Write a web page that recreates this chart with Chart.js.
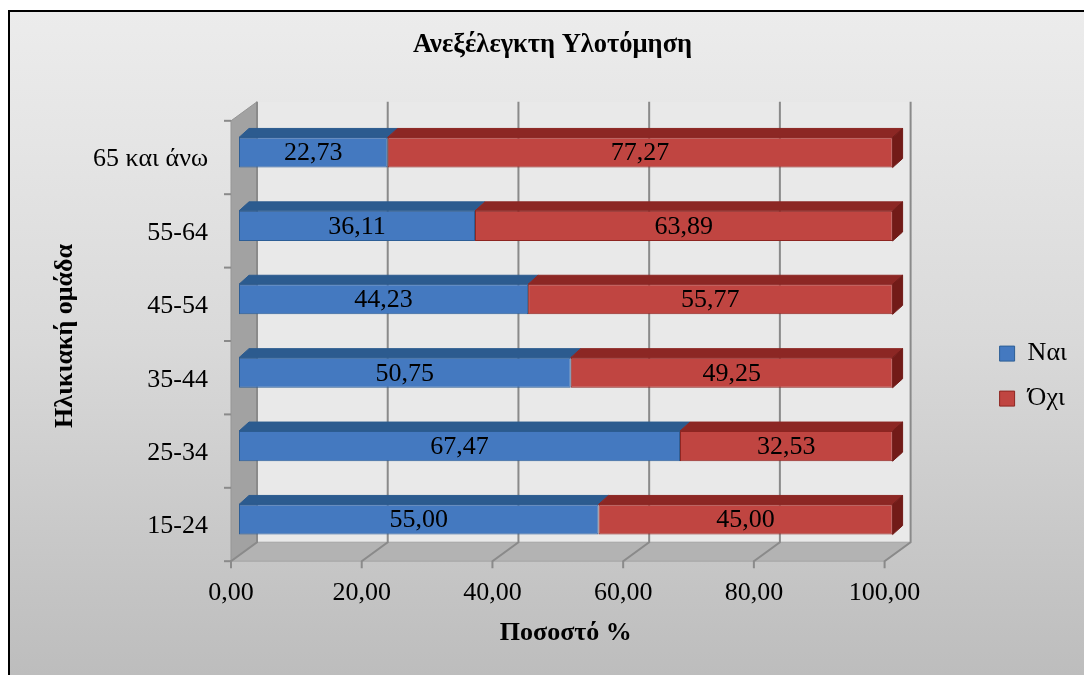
<!DOCTYPE html>
<html>
<head>
<meta charset="utf-8">
<script src="https://cdn.jsdelivr.net/npm/chart.js@4.4.1/dist/chart.umd.min.js"></script>
<style>
  html, body { margin: 0; padding: 0; background: #fff; }
  canvas { display: block; }
</style>
</head>
<body>
<canvas id="chart" width="1084" height="675"></canvas>
<script>
// data
const categories = ['15-24', '25-34', '35-44', '45-54', '55-64', '65 και άνω'];
const yesValues = [55.00, 67.47, 50.75, 44.23, 36.11, 22.73];
const noValues = [45.00, 32.53, 49.25, 55.77, 63.89, 77.27];
const seriesNames = ['Ναι', 'Όχι'];

const FONT = "'Liberation Serif', 'Times New Roman', serif";
Chart.defaults.font.family = FONT;
Chart.defaults.color = '#000';

// 3D offsets relative to the bar plane (chart area)
const FRONT = { dx: -8, dy: 5 };
const BACK = { dx: 18, dy: -14 };
const BAR_DEPTH = { dx: 10, dy: -9 };

const fmt = (v) => v.toFixed(2).replace('.', ',');

function poly(ctx, pts, fill, stroke) {
    ctx.beginPath();
    ctx.moveTo(pts[0][0], pts[0][1]);
    for (let i = 1; i < pts.length; i++) ctx.lineTo(pts[i][0], pts[i][1]);
    ctx.closePath();
    if (fill) { ctx.fillStyle = fill; ctx.fill(); }
    if (stroke) { ctx.strokeStyle = stroke; ctx.lineWidth = 1; ctx.stroke(); }
}

// page background with the frame
const backgroundPlugin = {
    id: 'background',
    beforeDraw(chart) {
        const { ctx, width, height } = chart;
        ctx.save();
        ctx.fillStyle = '#fff';
        ctx.fillRect(0, 0, width, height);
        const g = ctx.createLinearGradient(0, 10, 0, height);
        g.addColorStop(0, '#ececec');
        g.addColorStop(0.2, '#e5e5e5');
        g.addColorStop(0.5, '#d9d9d9');
        g.addColorStop(0.85, '#c5c5c5');
        g.addColorStop(1, '#bdbdbd');
        ctx.fillStyle = g;
        ctx.fillRect(8, 10, width - 8, height - 10);
        ctx.strokeStyle = '#000';
        ctx.lineWidth = 2;
        ctx.beginPath();
        ctx.moveTo(9, height);
        ctx.lineTo(9, 11);
        ctx.lineTo(width, 11);
        ctx.stroke();
        ctx.restore();
    }
};

// walls, floor and gridlines
const wallsPlugin = {
    id: 'walls',
    beforeDatasetsDraw(chart) {
        const { ctx, chartArea: a, scales: { x, y } } = chart;
        ctx.save();
        // back wall
        ctx.fillStyle = '#e9e9e9';
        ctx.fillRect(a.left + BACK.dx, a.top + BACK.dy, a.width, a.height);
        // side wall
        poly(ctx, [
            [a.left + FRONT.dx, a.top + FRONT.dy],
            [a.left + BACK.dx, a.top + BACK.dy],
            [a.left + BACK.dx, a.bottom + BACK.dy],
            [a.left + FRONT.dx, a.bottom + FRONT.dy]
        ], '#a2a2a2', '#959595');
        // floor
        poly(ctx, [
            [a.left + FRONT.dx, a.bottom + FRONT.dy],
            [a.left + BACK.dx, a.bottom + BACK.dy],
            [a.right + BACK.dx, a.bottom + BACK.dy],
            [a.right + FRONT.dx, a.bottom + FRONT.dy]
        ], '#b3b3b3', '#a5a5a5');

        // vertical gridlines: back wall, floor, tick mark
        ctx.strokeStyle = '#8a8a8a';
        ctx.lineWidth = 2;
        x.ticks.forEach((t) => {
            const px = x.getPixelForValue(t.value);
            ctx.beginPath();
            ctx.moveTo(px + BACK.dx, a.top + BACK.dy);
            ctx.lineTo(px + BACK.dx, a.bottom + BACK.dy);
            ctx.lineTo(px + FRONT.dx, a.bottom + FRONT.dy);
            ctx.lineTo(px + FRONT.dx, a.bottom + FRONT.dy + 7);
            ctx.stroke();
        });

        // category tick marks on the side wall front edge
        const n = categories.length;
        const step = Math.abs(y.getPixelForValue(1) - y.getPixelForValue(0));
        for (let i = 0; i <= n; i++) {
            const py = a.top + i * step + FRONT.dy;
            ctx.beginPath();
            ctx.moveTo(a.left + FRONT.dx - 7, py);
            ctx.lineTo(a.left + FRONT.dx, py);
            ctx.stroke();
        }
        ctx.restore();
    },
    afterDatasetsDraw(chart) {
        const { ctx } = chart;
        const last = chart.data.datasets.length - 1;
        ctx.save();
        chart.data.datasets.forEach((ds, di) => {
            const meta = chart.getDatasetMeta(di);
            meta.data.forEach((el) => {
                const { x, y, base, height } = el.getProps(['x', 'y', 'base', 'height'], true);
                const left = Math.min(x, base);
                const right = Math.max(x, base);
                const top = y - height / 2;
                const bottom = y + height / 2;
                // top face
                poly(ctx, [
                    [left, top],
                    [left + BAR_DEPTH.dx, top + BAR_DEPTH.dy],
                    [right + BAR_DEPTH.dx, top + BAR_DEPTH.dy],
                    [right, top]
                ], ds.topColor, ds.topColor);
                // right side face on the end of the stack
                if (di === last) {
                    poly(ctx, [
                        [right, top],
                        [right + BAR_DEPTH.dx, top + BAR_DEPTH.dy],
                        [right + BAR_DEPTH.dx, bottom + BAR_DEPTH.dy],
                        [right, bottom]
                    ], ds.sideColor, ds.sideColor);
                }
            });
        });
        // value labels
        ctx.fillStyle = '#000';
        ctx.font = '26px ' + FONT;
        ctx.textAlign = 'center';
        ctx.textBaseline = 'middle';
        chart.data.datasets.forEach((ds, di) => {
            const meta = chart.getDatasetMeta(di);
            meta.data.forEach((el, i) => {
                const { x, y, base } = el.getProps(['x', 'y', 'base'], true);
                ctx.fillText(fmt(ds.data[i]), (x + base) / 2, y + 1);
            });
        });
        ctx.restore();
    }
};

new Chart(document.getElementById('chart'), {
    type: 'bar',
    data: {
        labels: categories,
        datasets: [
            {
                label: seriesNames[0],
                data: yesValues,
                backgroundColor: '#4479c0',
                borderColor: '#2d5e96',
                topColor: '#2c5b8f',
                sideColor: '#23497a',
                borderWidth: 1,
                borderSkipped: false
            },
            {
                label: seriesNames[1],
                data: noValues,
                backgroundColor: '#c04541',
                borderColor: '#8e2521',
                topColor: '#8c2724',
                sideColor: '#721b18',
                borderWidth: 1,
                borderSkipped: false
            }
        ]
    },
    options: {
        indexAxis: 'y',
        responsive: false,
        animation: false,
        barPercentage: 0.41,
        categoryPercentage: 1,
        layout: { padding: { left: 28, right: 7, top: 0, bottom: 0 } },
        plugins: {
            tooltip: { enabled: false },
            title: {
                display: true,
                text: 'Ανεξέλεγκτη Υλοτόμηση',
                font: { size: 26.5, weight: 'bold' },
                color: '#000',
                padding: { top: 29, bottom: 55 }
            },
            legend: {
                position: 'right',
                align: 'center',
                title: { display: true, text: '', font: { size: 1 }, padding: { top: 76, bottom: 0 } },
                labels: {
                    font: { size: 26 },
                    color: '#000',
                    boxWidth: 15,
                    boxHeight: 15,
                    padding: 19
                }
            }
        },
        scales: {
            x: {
                stacked: true,
                min: 0,
                max: 100,
                grid: { display: false, drawTicks: false },
                border: { display: false },
                ticks: {
                    stepSize: 20,
                    font: { size: 26 },
                    color: '#000',
                    padding: 21,
                    labelOffset: -8,
                    maxRotation: 0,
                    callback: (v) => fmt(v)
                },
                title: {
                    display: true,
                    text: 'Ποσοστό %',
                    font: { size: 26, weight: 'bold' },
                    color: '#000',
                    padding: { top: 0, bottom: 26 }
                },
                afterFit: (s) => { s.height = 118.8; }
            },
            y: {
                stacked: true,
                reverse: true,
                grid: { display: false, drawTicks: false },
                border: { display: false },
                ticks: {
                    font: { size: 26 },
                    color: '#000',
                    padding: 31,
                    labelOffset: 7
                },
                title: {
                    display: true,
                    text: 'Ηλικιακή ομάδα',
                    font: { size: 26, weight: 'bold' },
                    color: '#000',
                    padding: { top: 22, bottom: 0 }
                },
                afterFit: (s) => { s.width = 211; }
            },
            spacer: {
                type: 'linear',
                axis: 'y',
                position: 'right',
                display: true,
                grid: { display: false, drawTicks: false },
                border: { display: false },
                ticks: { display: false },
                afterFit: (s) => { s.width = 88; }
            }
        }
    },
    plugins: [backgroundPlugin, wallsPlugin]
});
</script>
</body>
</html>
